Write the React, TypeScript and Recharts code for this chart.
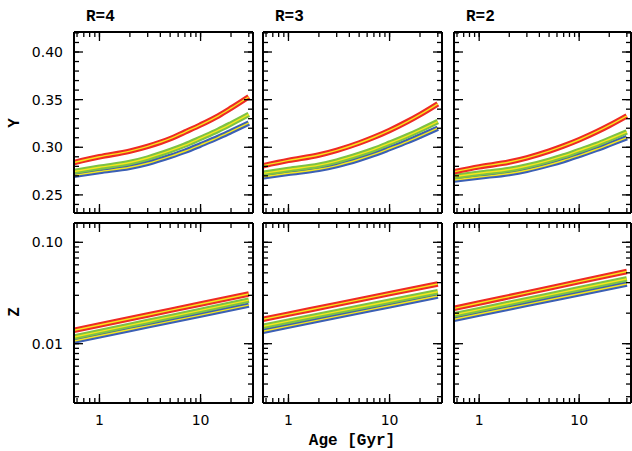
import { Line, LineChart, XAxis, YAxis } from 'recharts';

// ages in Gyr
const ages = [0.56, 1, 2, 3, 5, 7, 10, 15, 20, 30];
const zAges = [0.56, 1, 3, 10, 30];

// helium fraction Y
const yR4Red = [0.284, 0.29, 0.296, 0.301, 0.309, 0.316, 0.3235, 0.333, 0.341, 0.353];
const yR4Green = [0.2745, 0.279, 0.284, 0.2887, 0.2964, 0.3023, 0.3095, 0.3179, 0.3246, 0.3345];
const yR4Blue = [0.2705, 0.2745, 0.279, 0.2832, 0.2904, 0.2958, 0.3025, 0.3104, 0.3166, 0.3255];
const yR3Red = [0.2806, 0.2862, 0.2919, 0.2968, 0.3045, 0.3105, 0.3177, 0.327, 0.3343, 0.3456];
const yR3Green = [0.2726, 0.2767, 0.2812, 0.2855, 0.2925, 0.2978, 0.3043, 0.312, 0.318, 0.327];
const yR3Blue = [0.269, 0.2727, 0.2769, 0.2808, 0.2874, 0.2925, 0.2987, 0.306, 0.3117, 0.32];
const yR2Red = [0.2743, 0.2794, 0.2845, 0.2889, 0.2959, 0.3014, 0.3079, 0.3163, 0.3229, 0.333];
const yR2Green = [0.2692, 0.2727, 0.2766, 0.2803, 0.2863, 0.2909, 0.2966, 0.3031, 0.3084, 0.3161];
const yR2Blue = [0.2656, 0.2688, 0.2725, 0.2759, 0.2817, 0.2861, 0.2915, 0.2979, 0.3029, 0.3101];

// metallicity Z
const zR4Red = [0.01355, 0.0153, 0.0192, 0.0246, 0.0309];
const zR4Green = [0.01164, 0.01315, 0.01656, 0.02133, 0.0269];
const zR4Blue = [0.01062, 0.01197, 0.01497, 0.01914, 0.024];
const zR3Red = [0.01742, 0.01958, 0.02443, 0.0312, 0.0388];
const zR3Green = [0.01486, 0.01667, 0.0207, 0.0262, 0.0325];
const zR3Blue = [0.01324, 0.01489, 0.01858, 0.02366, 0.0295];
const zR2Red = [0.0223, 0.0252, 0.0317, 0.0409, 0.0515];
const zR2Green = [0.0193, 0.0217, 0.0272, 0.0348, 0.0436];
const zR2Blue = [0.0174, 0.0196, 0.0244, 0.0311, 0.0388];

const titles = ['R=4', 'R=3', 'R=2'];

const xTicksAll = [0.6, 0.7, 0.8, 0.9, 1, 2, 3, 4, 5, 6, 7, 8, 9, 10, 20, 30];
const xTicksMajor = [1, 10];
const yTicksAll = [0.24, 0.25, 0.26, 0.27, 0.28, 0.29, 0.3, 0.31, 0.32, 0.33, 0.34, 0.35, 0.36, 0.37, 0.38, 0.39, 0.4, 0.41, 0.42];
const yTicksMajor = [0.25, 0.3, 0.35, 0.4];
const zTicksAll = [0.003, 0.004, 0.005, 0.006, 0.007, 0.008, 0.009, 0.01, 0.02, 0.03, 0.04, 0.05, 0.06, 0.07, 0.08, 0.09, 0.1];
const zTicksMajor = [0.01, 0.1];

const X_DOMAIN: [number, number] = [0.56, 33];
const Y_DOMAIN: [number, number] = [0.231, 0.421];
const Z_DOMAIN: [number, number] = [0.0026, 0.155];

const COLS = [
  { x: 74, w: 179 },
  { x: 263, w: 179 },
  { x: 454, w: 177 },
];
const ROWS = [
  { y: 32, h: 181 },
  { y: 223, h: 180 },
];

const SERIES = [
  { key: 'blue', color: '#3b5fb5' },
  { key: 'green', color: '#7ec243' },
  { key: 'red', color: '#ee2a24' },
];
const CENTER = '#f6e81c';

const tickFont = { fill: '#000', fontSize: 14, fontFamily: 'DejaVu Sans' };
const frame = { stroke: '#000', strokeWidth: 2 };
const tickLine = { stroke: '#000', strokeWidth: 1.3 };
const blank = () => '';

function rows(xs: number[], red: number[], green: number[], blue: number[]) {
  return xs.map((age, i) => ({ age, red: red[i], green: green[i], blue: blue[i] }));
}

type PanelProps = {
  col: number;
  row: number;
  data: { age: number; red: number; green: number; blue: number }[];
  yDomain: [number, number];
  yLog: boolean;
  yAll: number[];
  yMajor: number[];
};

function Panel({ col, row, data, yDomain, yLog, yAll, yMajor }: PanelProps) {
  // each axis takes 1px, two axes per side
  const m = { top: 28, right: 10, bottom: 38, left: 68 };
  const { x, w } = COLS[col];
  const { y, h } = ROWS[row];
  const showX = row === 1;
  const showY = col === 0;
  const fmtX = (v: number) => (showX && xTicksMajor.includes(v) ? String(v) : '');
  const fmtY = (v: number) => (showY && yMajor.includes(v) ? v.toFixed(2) : '');
  const yScale = yLog ? 'log' : 'linear';
  const common = { type: 'number' as const, allowDataOverflow: true, interval: 0 as const };

  return (
    <div style={{ position: 'absolute', left: x - m.left - 2, top: y - m.top - 2 }}>
      <LineChart width={w + m.left + m.right + 4} height={h + m.top + m.bottom + 4} data={data} margin={m}>
        <XAxis {...common} xAxisId="b" dataKey="age" scale="log" domain={X_DOMAIN} ticks={xTicksAll} height={1}
          tickSize={-5} tickMargin={17} tickFormatter={fmtX} axisLine={frame} tickLine={tickLine} tick={tickFont} />
        <XAxis {...common} xAxisId="bM" dataKey="age" scale="log" domain={X_DOMAIN} ticks={xTicksMajor} height={1}
          tickSize={-10} tickFormatter={blank} axisLine={false} tickLine={tickLine} />
        <XAxis {...common} xAxisId="t" orientation="top" dataKey="age" scale="log" domain={X_DOMAIN} ticks={xTicksAll}
          height={1} tickSize={-5} tickFormatter={blank} axisLine={frame} tickLine={tickLine} />
        <XAxis {...common} xAxisId="tM" orientation="top" dataKey="age" scale="log" domain={X_DOMAIN} ticks={xTicksMajor}
          height={1} tickSize={-10} tickFormatter={blank} axisLine={false} tickLine={tickLine} />
        <YAxis {...common} yAxisId="l" scale={yScale} domain={yDomain} ticks={yAll} width={1} tickSize={-5}
          tickMargin={16} tickFormatter={fmtY} axisLine={frame} tickLine={tickLine} tick={tickFont} />
        <YAxis {...common} yAxisId="lM" scale={yScale} domain={yDomain} ticks={yMajor} width={1} tickSize={-10}
          tickFormatter={blank} axisLine={false} tickLine={tickLine} />
        <YAxis {...common} yAxisId="r" orientation="right" scale={yScale} domain={yDomain} ticks={yAll} width={1}
          tickSize={-5} tickFormatter={blank} axisLine={frame} tickLine={tickLine} />
        <YAxis {...common} yAxisId="rM" orientation="right" scale={yScale} domain={yDomain} ticks={yMajor} width={1}
          tickSize={-10} tickFormatter={blank} axisLine={false} tickLine={tickLine} />
        {SERIES.flatMap((s) => [
          <Line key={s.key} xAxisId="b" yAxisId="l" type="monotone" dataKey={s.key} stroke={s.color}
            strokeWidth={5.5} dot={false} activeDot={false} isAnimationActive={false} />,
          <Line key={s.key + '-c'} xAxisId="b" yAxisId="l" type="monotone" dataKey={s.key} stroke={CENTER}
            strokeWidth={1.4} dot={false} activeDot={false} isAnimationActive={false} />,
        ])}
      </LineChart>
    </div>
  );
}

export default function App() {
  const topData = [
    rows(ages, yR4Red, yR4Green, yR4Blue),
    rows(ages, yR3Red, yR3Green, yR3Blue),
    rows(ages, yR2Red, yR2Green, yR2Blue),
  ];
  const bottomData = [
    rows(zAges, zR4Red, zR4Green, zR4Blue),
    rows(zAges, zR3Red, zR3Green, zR3Blue),
    rows(zAges, zR2Red, zR2Green, zR2Blue),
  ];
  const labelFont = { fontFamily: "'Liberation Mono', 'Courier New', monospace", fontSize: 16, fontWeight: 'bold', fill: '#000' };

  return (
    <div style={{ position: 'absolute', left: 0, top: 0, width: 632, height: 451, background: '#fff' }}>
      {topData.map((d, i) => (
        <Panel key={'y' + i} col={i} row={0} data={d} yDomain={Y_DOMAIN} yLog={false} yAll={yTicksAll} yMajor={yTicksMajor} />
      ))}
      {bottomData.map((d, i) => (
        <Panel key={'z' + i} col={i} row={1} data={d} yDomain={Z_DOMAIN} yLog yAll={zTicksAll} yMajor={zTicksMajor} />
      ))}
      <svg width={632} height={451} style={{ position: 'absolute', left: 0, top: 0, pointerEvents: 'none' }}>
        {titles.map((t, i) => (
          <text key={t} x={COLS[i].x + 12} y={21} {...labelFont}>{t}</text>
        ))}
        <text x={0} y={0} transform="translate(19,123) rotate(-90)" textAnchor="middle" {...labelFont}>Y</text>
        <text x={0} y={0} transform="translate(19,312) rotate(-90)" textAnchor="middle" {...labelFont}>Z</text>
        <text x={352} y={445} textAnchor="middle" {...labelFont}>Age [Gyr]</text>
      </svg>
    </div>
  );
}
